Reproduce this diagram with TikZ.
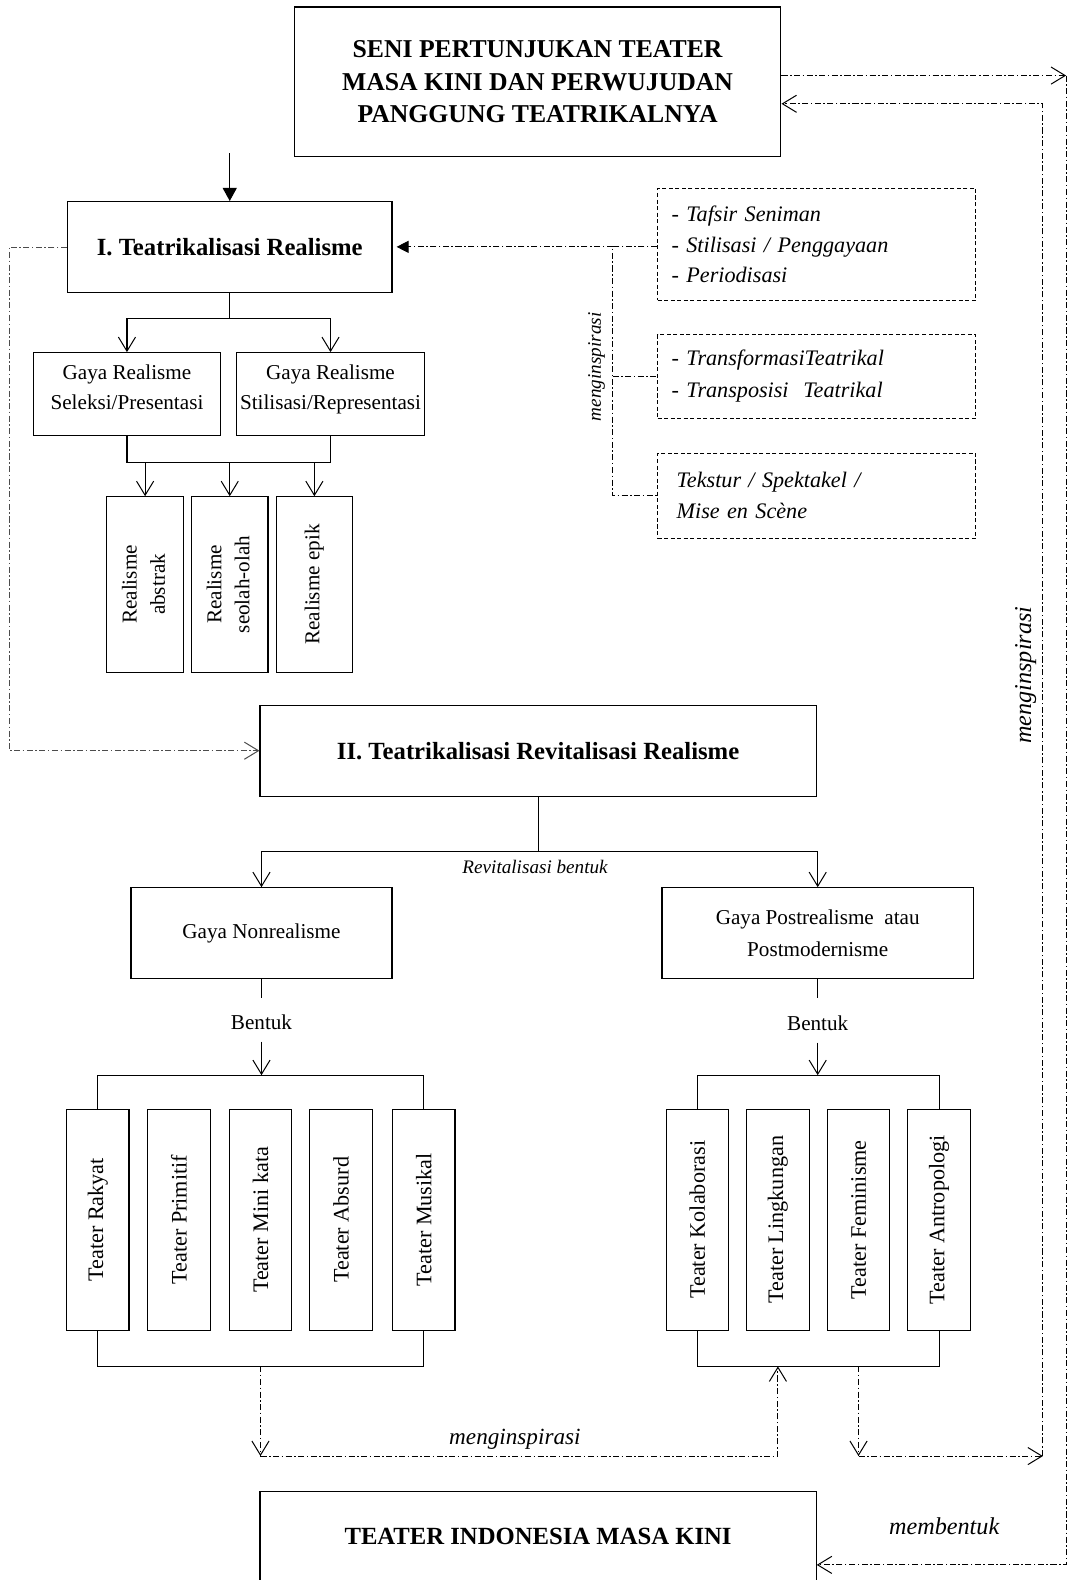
\documentclass[tikz,border=0pt]{standalone}
\usepackage{fontspec}
\setmainfont{Liberation Serif}
\usepackage{graphicx}
\usetikzlibrary{arrows.meta,calc}
\begin{document}
\begin{tikzpicture}[x=1pt,y=-1pt,
  >={Straight Barb[length=14pt,width=17pt,line width=1pt]},
  box/.style={draw, line width=1.1pt, inner sep=2pt, align=center},
  vbox/.style={box, minimum width=62, minimum height=219, font=\fontsize{22}{28}\selectfont},
  rbox/.style={box, minimum width=76, minimum height=174, font=\fontsize{21}{28}\selectfont},
  dbox/.style={draw, line width=0.9pt, dash pattern=on 4pt off 2.5pt, align=left,
    text width=288, inner xsep=14, inner ysep=0, font=\itshape\fontsize{22}{30}\selectfont},
  link/.style={line width=1.1pt},
  dd/.style={line width=0.9pt, dash pattern=on 6pt off 2.5pt on 1.5pt off 2.5pt},
  ddthin/.style={line width=0.6pt, black!70, dash pattern=on 6pt off 2.5pt on 1.5pt off 2.5pt},
  lbl/.style={font=\itshape\fontsize{23}{28}\selectfont, inner sep=1pt},
  ftitle/.style={font=\bfseries\fontsize{24.5}{32}\selectfont},
  fnorm/.style={font=\fontsize{21}{30}\selectfont}]
\useasboundingbox (0,0) rectangle (1065,1568);
\clip (0,0) rectangle (1065,1568);

% main boxes
\node[box, font=\bfseries\fontsize{25.5}{32}\selectfont, minimum width=483, minimum height=148] (top) at (533.5,81)
  {SENI PERTUNJUKAN TEATER\\MASA KINI DAN PERWUJUDAN\\PANGGUNG TEATRIKALNYA};
\node[box, ftitle, minimum width=322, minimum height=90] (r1) at (228,245) {I. Teatrikalisasi Realisme};
\node[box, fnorm, text depth=13pt, minimum width=186, minimum height=82] (gl) at (126,391) {Gaya Realisme\\Seleksi/Presentasi};
\node[box, fnorm, text depth=13pt, minimum width=186, minimum height=82] (gr) at (328,391) {Gaya Realisme\\Stilisasi/Representasi};
\node[rbox] (ra) at (144,580) {\rotatebox{90}{\begin{tabular}{@{}c@{}}Realisme\\abstrak\end{tabular}}};
\node[rbox] (rb) at (228,580) {\rotatebox{90}{\begin{tabular}{@{}c@{}}Realisme\\seolah-olah\end{tabular}}};
\node[rbox] (rc) at (312,580) {\rotatebox{90}{Realisme epik}};

\node[box, ftitle, minimum width=552, minimum height=90] (r2) at (534,745) {II. Teatrikalisasi Revitalisasi Realisme};
\node[box, fnorm, minimum width=259, minimum height=90] (gn) at (259.5,926) {Gaya Nonrealisme};
\node[box, fnorm, minimum width=309, minimum height=90, font=\fontsize{21}{32}\selectfont] (gp) at (811.5,926) {Gaya Postrealisme\ \ atau\\Postmodernisme};
\node[fnorm, inner sep=1pt] (bl) at (259.5,1014) {Bentuk};
\node[fnorm, inner sep=1pt] (br) at (811.5,1015) {Bentuk};

\node[vbox] (va) at (97,1210.5) {\rotatebox{90}{Teater Rakyat}};
\node[vbox] (vb) at (177.5,1210.5) {\rotatebox{90}{Teater Primitif}};
\node[vbox] (vc) at (258.5,1210.5) {\rotatebox{90}{Teater Mini kata}};
\node[vbox] (vd) at (338.5,1210.5) {\rotatebox{90}{Teater Absurd}};
\node[vbox] (ve) at (420.5,1210.5) {\rotatebox{90}{Teater Musikal}};

\node[vbox] (wa) at (692,1210.5) {\rotatebox{90}{Teater Kolaborasi}};
\node[vbox] (wb) at (772,1210.5) {\rotatebox{90}{Teater Lingkungan}};
\node[vbox] (wc) at (852,1210.5) {\rotatebox{90}{Teater Feminisme}};
\node[vbox] (wd) at (932,1210.5) {\rotatebox{90}{Teater Antropologi}};

\node[box, font=\bfseries\fontsize{24.5}{28}\selectfont, minimum width=552, minimum height=90] (tib) at (534,1525) {TEATER INDONESIA MASA KINI};

% dashed boxes on the right
\node[dbox, minimum width=316, minimum height=111] (da) at (810.5,242.5)
  {- Tafsir Seniman\\- Stilisasi / Penggayaan\\- Periodisasi};
\node[dbox, minimum width=316, minimum height=83, font=\itshape\fontsize{22}{32}\selectfont] (db) at (810.5,373.5)
  {- TransformasiTeatrikal\\- Transposisi\ \ Teatrikal};
\node[dbox, minimum width=316, minimum height=84, font=\itshape\fontsize{22}{31}\selectfont] (dc) at (810.5,492)
  {\hspace*{5pt}Tekstur / Spektakel /\\\hspace*{5pt}Mise en Scène};

% helper coordinates for buses and bends
\coordinate (feed) at (228,152);
\coordinate (b1) at (0,316);
\coordinate (b2) at (0,459);
\coordinate (b3) at (0,845);
\coordinate (b4) at (0,1067);
\coordinate (b5) at (0,1356);
\coordinate (b6) at (0,1445);
\coordinate (b7) at (0,1553);
\coordinate (c1) at (1058,75);
\coordinate (c2) at (1035,103);
\coordinate (c3) at (9,0);
\coordinate (c4) at (608,0);

% solid tree connectors
\draw[link, -{Triangle[length=13pt,width=14pt]}] (feed) -- (feed |- r1.north);
\draw[link] (r1.south) -- (r1.south |- b1);
\draw[link, ->] (r1.south |- b1) -| (gl.north);
\draw[link, ->] (r1.south |- b1) -| (gr.north);
\draw[link] (gl.south) -- (gl.south |- b2) -- (gr.south |- b2) -- (gr.south);
\draw[link, ->] (ra.north |- b2) -- (ra.north);
\draw[link, ->] (rb.north |- b2) -- (rb.north);
\draw[link, ->] (rc.north |- b2) -- (rc.north);

\draw[link] (r2.south) -- (r2.south |- b3);
\draw[link, ->] (r2.south |- b3) -| (gn.north);
\draw[link, ->] (r2.south |- b3) -| (gp.north);
\node[lbl, font=\itshape\fontsize{19}{24}\selectfont] (revit) at (531,860) {Revitalisasi bentuk};

\draw[link] (gn.south) -- ($(gn.south)+(0,19)$);
\draw[link, ->] ($(bl.south)+(0,11)$) -- (bl.south |- b4);
\draw[link] (va.north) -- (va.north |- b4) -- (ve.north |- b4) -- (ve.north);
\draw[link] (va.south) -- (va.south |- b5) -- (ve.south |- b5) -- (ve.south);

\draw[link] (gp.south) -- ($(gp.south)+(0,19)$);
\draw[link, ->] ($(br.south)+(0,11)$) -- (br.south |- b4);
\draw[link] (wa.north) -- (wa.north |- b4) -- (wd.north |- b4) -- (wd.north);
\draw[link] (wa.south) -- (wa.south |- b5) -- (wd.south |- b5) -- (wd.south);

% dash-dot relations
\draw[ddthin, ->] (r1.west) -- (r1.west -| c3) -- (c3 |- r2.west) -- (r2.west);
\draw[dd, -{Triangle[length=12pt,width=12pt]}] (c4 |- r1.east) -- ([xshift=4pt]r1.east);
\draw[dd] (da.west |- r1.east) -- (c4 |- r1.east) -- (c4 |- dc.west) -- (dc.west);
\draw[dd] (c4 |- db.west) -- (db.west);
\node[lbl, font=\itshape\fontsize{19}{24}\selectfont, rotate=90] (insp1) at (592,364) {menginspirasi};

\draw[dd, ->] (vc.south |- b5) -- (vc.south |- b6);
\draw[dd, ->] (vc.south |- b6) -- (wb.south |- b6) -- (wb.south |- b5);
\node[lbl] (insp2) at (511,1428) {menginspirasi};

\draw[dd, ->] (wc.south |- b5) -- (wc.south |- b6);
\draw[dd, ->] (wc.south |- b6) -- (c2 |- b6);
\draw[dd, ->] (c2 |- b6) -- (c2) -- (top.east |- c2);
\node[lbl, font=\itshape\fontsize{24}{28}\selectfont, rotate=90] (insp3) at (1018,670) {menginspirasi};

\draw[dd, ->] (top.east |- c1) -- (c1);
\draw[dd, ->] (c1) -- (c1 |- b7) -- (tib.east |- b7);
\node[lbl, font=\itshape\fontsize{24}{28}\selectfont] (membentuk) at (937,1515) {membentuk};
\end{tikzpicture}
\end{document}
